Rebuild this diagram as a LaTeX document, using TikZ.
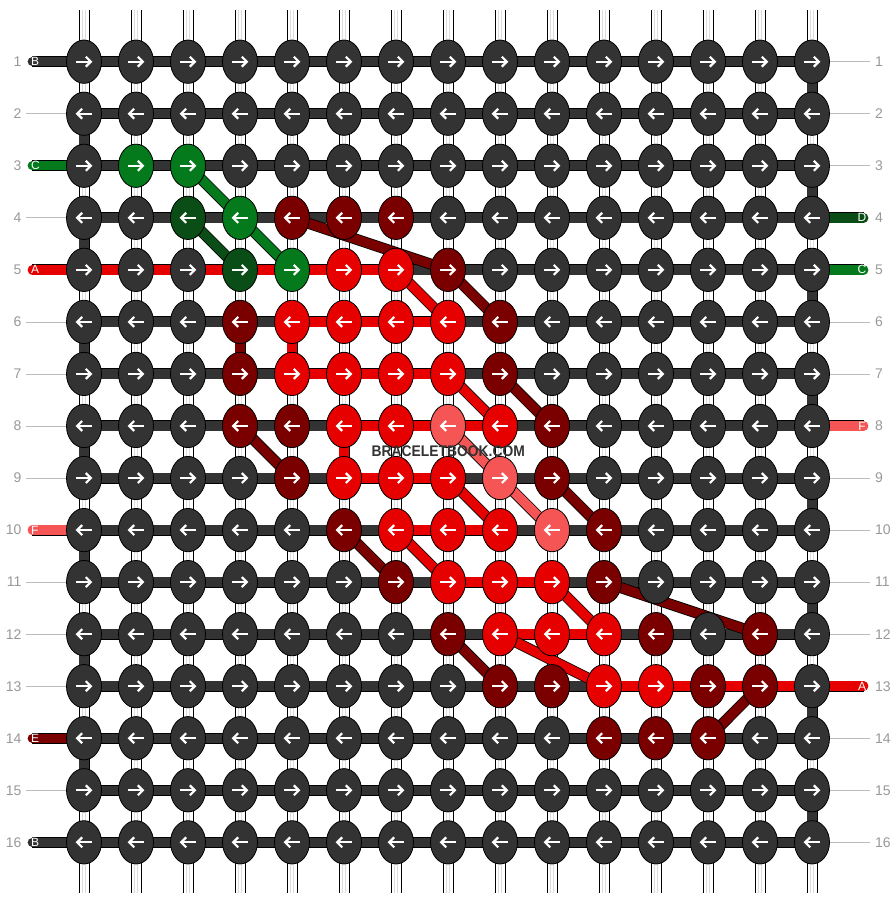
\documentclass[tikz,border=0pt]{standalone}
\usepackage{fontspec}
\setmainfont{Liberation Sans}
\usetikzlibrary{shapes.geometric}
\definecolor{cK}{HTML}{333333}
\definecolor{cG}{HTML}{047A1C}
\definecolor{cDG}{HTML}{0B4D17}
\definecolor{cR}{HTML}{E60000}
\definecolor{cDR}{HTML}{7A0000}
\definecolor{cP}{HTML}{F55555}
\definecolor{cNum}{HTML}{999999}
\definecolor{cGuide}{HTML}{BBBBBB}
\definecolor{cTubeLine}{HTML}{DCDCDC}
\pgfdeclarelayer{back}
\pgfdeclarelayer{bg}
\pgfsetlayers{back,bg,main}
\newcommand\knotcol[3]{\expandafter\def\csname nc-#1-#2\endcsname{#3}}
\knotcol{3}{2}{cG}\knotcol{3}{3}{cG}
\knotcol{4}{3}{cDG}\knotcol{4}{4}{cG}\knotcol{4}{5}{cDR}\knotcol{4}{6}{cDR}\knotcol{4}{7}{cDR}
\knotcol{5}{4}{cDG}\knotcol{5}{5}{cG}\knotcol{5}{6}{cR}\knotcol{5}{7}{cR}\knotcol{5}{8}{cDR}
\knotcol{6}{4}{cDR}\knotcol{6}{5}{cR}\knotcol{6}{6}{cR}\knotcol{6}{7}{cR}\knotcol{6}{8}{cR}\knotcol{6}{9}{cDR}
\knotcol{7}{4}{cDR}\knotcol{7}{5}{cR}\knotcol{7}{6}{cR}\knotcol{7}{7}{cR}\knotcol{7}{8}{cR}\knotcol{7}{9}{cDR}
\knotcol{8}{4}{cDR}\knotcol{8}{5}{cDR}\knotcol{8}{6}{cR}\knotcol{8}{7}{cR}\knotcol{8}{8}{cP}\knotcol{8}{9}{cR}\knotcol{8}{10}{cDR}
\knotcol{9}{5}{cDR}\knotcol{9}{6}{cR}\knotcol{9}{7}{cR}\knotcol{9}{8}{cR}\knotcol{9}{9}{cP}\knotcol{9}{10}{cDR}
\knotcol{10}{6}{cDR}\knotcol{10}{7}{cR}\knotcol{10}{8}{cR}\knotcol{10}{9}{cR}\knotcol{10}{10}{cP}\knotcol{10}{11}{cDR}
\knotcol{11}{7}{cDR}\knotcol{11}{8}{cR}\knotcol{11}{9}{cR}\knotcol{11}{10}{cR}\knotcol{11}{11}{cDR}
\knotcol{12}{8}{cDR}\knotcol{12}{9}{cR}\knotcol{12}{10}{cR}\knotcol{12}{11}{cR}\knotcol{12}{12}{cDR}\knotcol{12}{14}{cDR}
\knotcol{13}{9}{cDR}\knotcol{13}{10}{cDR}\knotcol{13}{11}{cR}\knotcol{13}{12}{cR}\knotcol{13}{13}{cDR}\knotcol{13}{14}{cDR}
\knotcol{14}{11}{cDR}\knotcol{14}{12}{cDR}\knotcol{14}{13}{cDR}
\tikzset{
  knot/.style={ellipse, draw=black, line width=0.8bp, minimum width=35bp, minimum height=43.3bp, inner sep=0pt},
  band/.style={line width=9.4bp, preaction={draw=black, line width=11bp}},
  tube/.style={draw=white, line width=9bp, line cap=round, preaction={draw=black, line width=11bp},
    postaction={draw=cTubeLine, line width=4.4bp, line cap=butt},
    postaction={draw=white, line width=2.8bp, line cap=butt}},
  guide/.style={draw=cGuide, line width=0.8bp},
  numl/.style={anchor=east, inner sep=0pt, text=cNum, font=\fontsize{14bp}{16bp}\selectfont},
  numr/.style={anchor=west, inner sep=0pt, text=cNum, font=\fontsize{14bp}{16bp}\selectfont},
  letl/.style={anchor=west, inner sep=0pt, text=white, font=\fontsize{12bp}{13bp}\selectfont},
  letr/.style={anchor=center, inner sep=0pt, text=white, font=\fontsize{12bp}{13bp}\selectfont},
  wm/.style={inner sep=0pt, text=cK, font=\fontsize{15.4bp}{16bp}\selectfont\bfseries},
  arrR/.pic={\draw[white, line width=2.2bp] (-7.8,0) -- (6,0);
             \draw[white, line width=2.2bp, miter limit=10] (1.8,-5) -- (6.8,0) -- (1.8,5);},
  arrL/.pic={\draw[white, line width=2.2bp] (7.8,0) -- (-6,0);
             \draw[white, line width=2.2bp, miter limit=10] (-1.8,-5) -- (-6.8,0) -- (-1.8,5);}
}
\begin{document}
\begin{tikzpicture}[x=1bp, y=-1bp]
\useasboundingbox (0,0) rectangle (896,904);
\begin{pgfonlayer}{back}
  \fill[white] (0,0) rectangle (896,904);
\end{pgfonlayer}
% knots
\foreach \rr in {1,...,16}{
  \foreach \cc in {1,...,15}{
    \pgfmathsetmacro\xx{84+(\cc-1)*52}
    \pgfmathsetmacro\yy{61.7+(\rr-1)*52.04}
    \ifcsname nc-\rr-\cc\endcsname \edef\kc{\csname nc-\rr-\cc\endcsname}\else\def\kc{cK}\fi
    \node[knot, fill=\kc] (n-\rr-\cc) at (\xx,\yy) {};
    \ifodd\rr\relax \pic at (n-\rr-\cc.center) {arrR};\else \pic at (n-\rr-\cc.center) {arrL};\fi
  }
}
\foreach \cc in {1,...,15}{
  \pgfmathsetmacro\xx{84+(\cc-1)*52}
  \coordinate (t-\cc) at (\xx,9.6);
  \coordinate (b-\cc) at (\xx,893.4);
}
\begin{pgfonlayer}{bg}
  % base strings (white tubes)
  \foreach \cc in {1,...,15}{
    \draw[tube] (t-\cc) -- (n-1-\cc.center);
    \draw[tube] (n-16-\cc.center) -- (b-\cc);
    \foreach \rr [evaluate=\rr as \rn using int(\rr+1)] in {1,...,15}{
      \draw[tube] (n-\rr-\cc.center) -- (n-\rn-\cc.center);
    }
  }
  % turns of the working string
  \foreach \rr [evaluate=\rr as \rn using int(\rr+1)] in {2,4,...,14}{
    \draw[band, cK] (n-\rr-1.center) -- (n-\rn-1.center);
  }
  \foreach \rr [evaluate=\rr as \rn using int(\rr+1)] in {1,3,...,15}{
    \draw[band, cK] (n-\rr-15.center) -- (n-\rn-15.center);
  }
  % coloured vertical links
  \draw[band, cDR] (n-6-4.center) -- (n-7-4.center);
  \draw[band, cR] (n-6-5.center) -- (n-7-5.center);
  \draw[band, cR] (n-8-6.center) -- (n-9-6.center);
  % horizontal segments
  \foreach \rr in {1,...,16}{
    \foreach \cc [evaluate=\cc as \cn using int(\cc+1)] in {1,...,14}{
      \draw[band, cK] (n-\rr-\cc.center) -- (n-\rr-\cn.center);
    }
  }
  \foreach \rr/\cc [evaluate=\cc as \cn using int(\cc+1)] in
    {5/1,5/2,5/3,5/4,5/5,5/6, 6/5,6/6,6/7, 7/5,7/6,7/7, 8/6,8/7,8/8, 9/6,9/7,
     10/7,10/8, 11/8,11/9, 12/9,12/10, 13/11,13/12,13/13,13/14}{
    \draw[band, cR] (n-\rr-\cc.center) -- (n-\rr-\cn.center);
  }
  % tails
  \foreach \rr/\cl/\tx in {1/cK/B, 3/cG/C, 5/cR/A, 10/cP/F, 14/cDR/E, 16/cK/B}{
    \pgfmathsetmacro\yy{61.7+(\rr-1)*52.04}
    \coordinate (L-\rr) at (32.3,\yy);
    \draw[band, \cl, line cap=round] (L-\rr) -- (n-\rr-1.center);
    \node[letl] (lt-\rr) at (31,\yy) {\tx};
  }
  \foreach \rr/\cl/\tx in {4/cDG/D, 5/cG/C, 8/cP/F, 13/cR/A}{
    \pgfmathsetmacro\yy{61.7+(\rr-1)*52.04}
    \coordinate (R-\rr) at (863.7,\yy);
    \draw[band, \cl, line cap=round] (n-\rr-15.center) -- (R-\rr);
    \node[letr] (rt-\rr) at (862,\yy) {\tx};
  }
  % diagonal links
  \foreach \a/\b/\cl in {3-3/4-4/cG, 4-4/5-5/cG, 4-3/5-4/cDG,
     4-5/5-8/cDR, 5-8/6-9/cDR, 7-9/8-10/cDR, 9-10/10-11/cDR, 11-11/12-14/cDR,
     13-14/14-13/cDR, 8-4/9-5/cDR, 10-6/11-7/cDR, 12-8/13-9/cDR,
     5-7/6-8/cR, 7-8/8-9/cR, 9-8/10-9/cR, 10-7/11-8/cR, 11-10/12-11/cR, 12-9/13-11/cR,
     8-8/9-9/cP, 9-9/10-10/cP}{
    \draw[band, \cl] (n-\a.center) -- (n-\b.center);
  }
\end{pgfonlayer}
% row guides and numbers
\foreach \rr in {2,4,6,7,8,9,11,12,13,15}{
  \pgfmathsetmacro\yy{61.7+(\rr-1)*52.04}
  \coordinate (GL-\rr) at (26,\yy);
  \draw[guide] (GL-\rr) -- (n-\rr-1.west);
}
\foreach \rr in {1,2,3,6,7,9,10,11,12,14,15,16}{
  \pgfmathsetmacro\yy{61.7+(\rr-1)*52.04}
  \coordinate (GR-\rr) at (869.5,\yy);
  \draw[guide] (n-\rr-15.east) -- (GR-\rr);
}
\foreach \rr in {1,...,16}{
  \pgfmathsetmacro\yy{61.7+(\rr-1)*52.04}
  \node[numl] (nl-\rr) at (21.7,\yy) {\rr};
  \node[numr] (nr-\rr) at (875,\yy) {\rr};
}
\node[wm] (wm) at (448.3,451.2) {\scalebox{0.9}[1]{BRACELETBOOK.COM}};
\end{tikzpicture}
\end{document}
